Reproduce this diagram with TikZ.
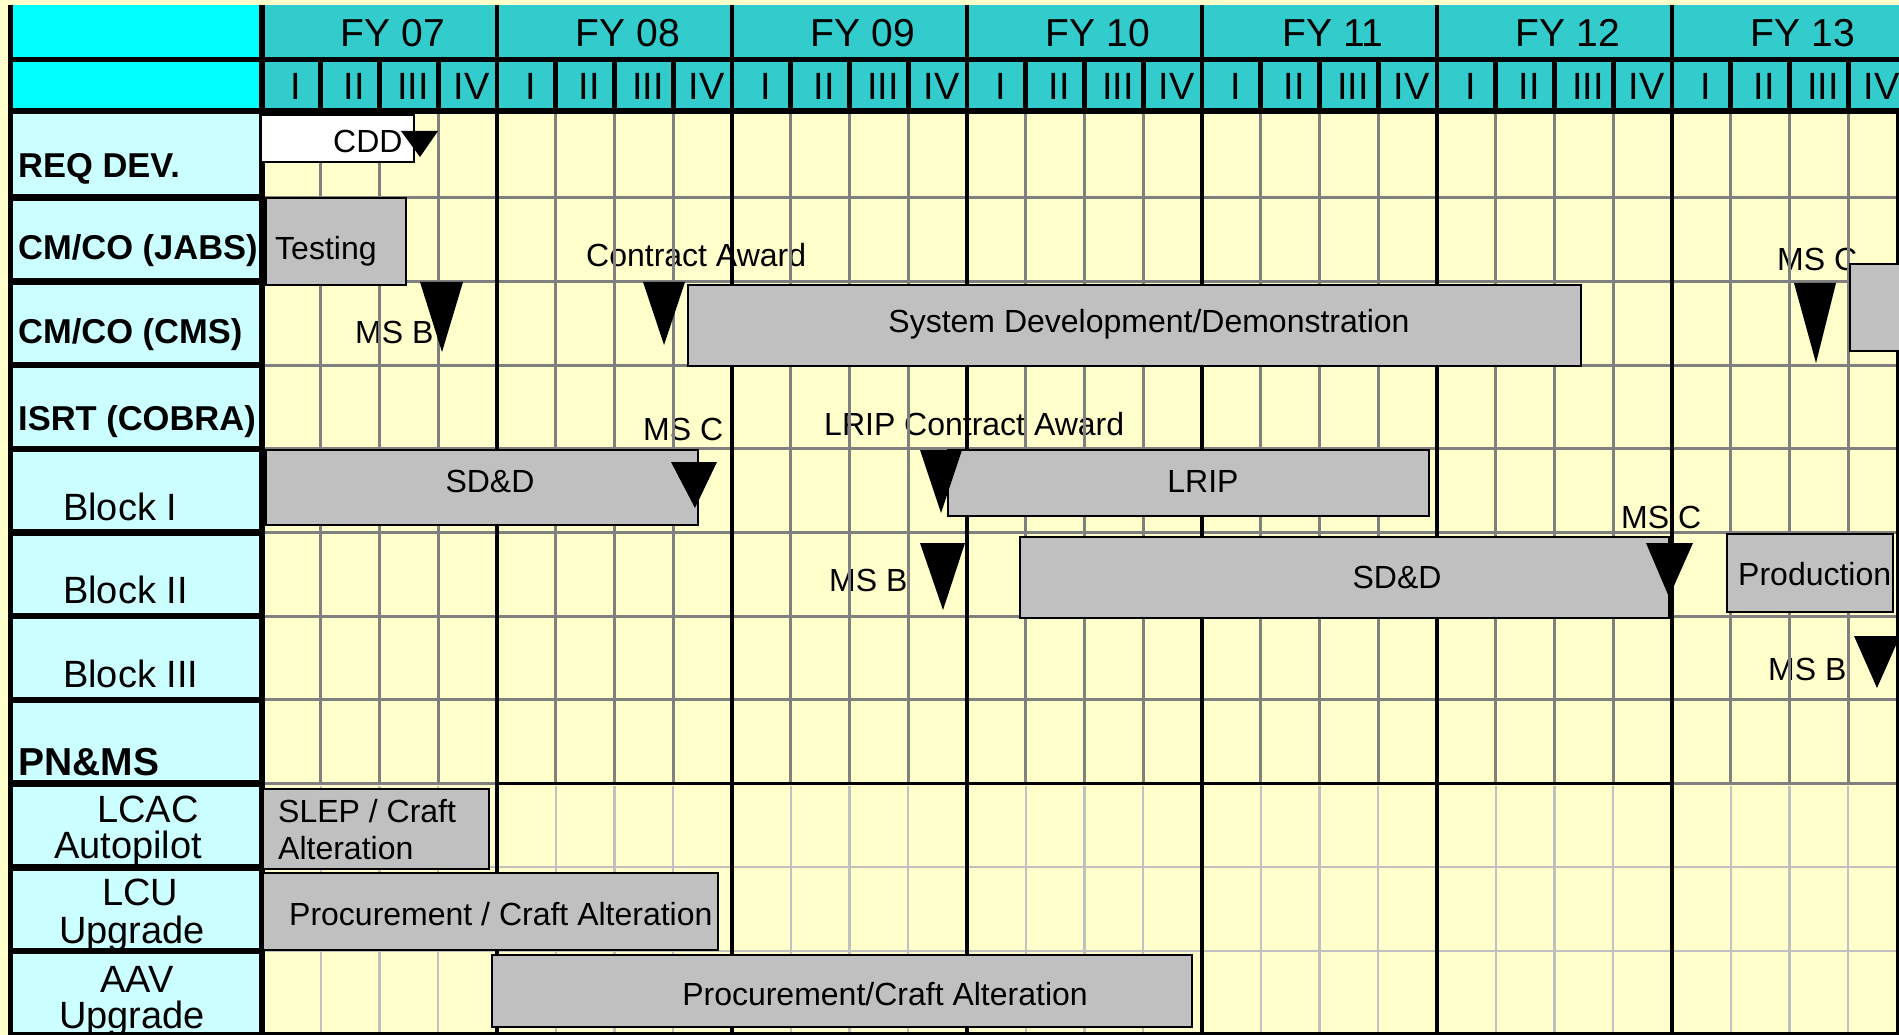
\documentclass[tikz,border=0pt]{standalone}
\usepackage{fontspec}
\setmainfont{Liberation Sans}
\definecolor{bgy}{HTML}{FFFFCC}
\definecolor{hcyan}{HTML}{00FFFF}
\definecolor{lcyan}{HTML}{CCFFFF}
\definecolor{hteal}{HTML}{33CCCC}
\definecolor{barg}{HTML}{C0C0C0}
\definecolor{gridg}{HTML}{808080}
\definecolor{gridl}{HTML}{C0C0C0}
\newcommand{\ganttbar}[6]{%
  \node[barbox, fill=#6, minimum width={(#4-#2)*1pt}, minimum height={(#5-#3)*1pt}, anchor=north west] (#1) at (#2,#3) {};}
\begin{document}
\begin{tikzpicture}[x=1pt,y=-1pt,
  barbox/.style={draw=black, line width=2.5pt, outer sep=0pt, inner sep=0pt},
  bt/.style={font=\fontsize{32}{38}\selectfont, inner sep=0pt},
  ms/.style={font=\fontsize{32}{38}\selectfont, inner sep=0pt, anchor=base west},
  fyl/.style={font=\fontsize{39}{46}\selectfont, inner sep=0pt, anchor=base},
  qtl/.style={font=\fontsize{38}{45}\selectfont, inner sep=0pt, anchor=base},
  boldlbl/.style={font=\fontsize{34.5}{40}\selectfont\bfseries, inner sep=0pt, anchor=base west},
  reglbl/.style={font=\fontsize{38}{45}\selectfont, inner sep=0pt, anchor=base west},
  gridline/.style={draw=gridg, line width=3pt},
  lightline/.style={draw=gridl, line width=2.2pt},
  yearline/.style={draw=black, line width=4.5pt},
  milestone/.style={fill=black}
]
\useasboundingbox (0,0) rectangle (1899,1035);
\begin{scope}
\clip (0,0) rectangle (1899,1035);
% backgrounds
\fill[bgy] (0,0) rectangle (1899,1035);
\fill[hcyan] (10,5) rectangle (262,108);
\fill[hteal] (262,5) rectangle (1899,108);
\fill[lcyan] (10,114) rectangle (262,1033);

% milestone labels (lie under the grid lines)
\node[ms] (lCA) at (586,267) {Contract Award};
\node[ms] (lMSB1) at (355,343) {MS B};
\node[ms] (lMSC1) at (1777,270) {MS C};
\node[ms] (lMSC2) at (643,440) {MS C};
\node[ms] (lLRIPCA) at (824,435) {LRIP Contract Award};
\node[ms] (lMSB2) at (829,591) {MS B};
\node[ms] (lMSC3) at (1621,528) {MS C};
\node[ms] (lMSB3) at (1768,680) {MS B};

% grid, upper section
\foreach \k in {1,2,3,5,6,7,9,10,11,13,14,15,17,18,19,21,22,23,25,26,27}
  \draw[gridline] ({262+58.75*\k},114) -- ({262+58.75*\k},784);
\foreach \r in {1,...,8}
  \draw[gridline] (262,{114+83.7*\r}) -- (1899,{114+83.7*\r});
% grid, lower section
\foreach \k in {1,2,3,5,6,7,9,10,11,13,14,15,17,18,19,21,22,23,25,26,27}
  \draw[lightline] ({262+58.75*\k},786) -- ({262+58.75*\k},1033);
\foreach \r in {9,10}
  \draw[lightline] (262,{114+83.7*\r}) -- (1899,{114+83.7*\r});
\draw[draw=black, line width=3pt] (497,783.6) -- (1672,783.6);
% year lines
\foreach \y in {1,...,6}
  \draw[yearline] ({262+235*\y},5) -- ({262+235*\y},1033);
% header quarter separators
\foreach \k in {1,2,3,5,6,7,9,10,11,13,14,15,17,18,19,21,22,23,25,26,27}
  \draw[draw=black, line width=5pt] ({262+58.75*\k},62) -- ({262+58.75*\k},108);
% header horizontals
\draw[draw=black, line width=5pt] (10,59.5) -- (1899,59.5);
\draw[draw=black, line width=6.5pt] (10,111) -- (1899,111);
% label column separators
\foreach \r in {1,...,10}
  \draw[draw=black, line width=6.5pt] (10,{114+83.7*\r}) -- (262,{114+83.7*\r});
% borders
\draw[draw=black, line width=4.5pt] (10.5,5) -- (10.5,1035);
\draw[draw=black, line width=5.5pt] (262,5) -- (262,1035);
\draw[draw=black, line width=3pt] (1897,114) -- (1897,1033);
\draw[draw=black, line width=3pt] (10,1033) -- (1899,1033);

% bars
\ganttbar{bCDD}{261}{115}{414}{162}{white}
\ganttbar{bTest}{266}{198}{406}{285}{barg}
\ganttbar{bSDD}{688}{285}{1581}{366}{barg}
\ganttbar{bProd1}{1850}{264}{1915}{351}{barg}
\ganttbar{bSDDI}{266}{450}{698}{525}{barg}
\ganttbar{bLRIP}{948}{450}{1429}{516}{barg}
\ganttbar{bSDDII}{1020}{537}{1669}{618}{barg}
\ganttbar{bProd2}{1727}{534}{1893}{612}{barg}
\ganttbar{bSLEP}{263}{789}{489}{869}{barg}
\ganttbar{bLCU}{263}{873}{718}{950}{barg}
\ganttbar{bAAV}{492}{955}{1192}{1027}{barg}

% bar texts
\node[bt, anchor=base west] (tCDD) at (333,153) {CDD};
\node[bt, anchor=base west] (tTest) at (275,260) {Testing};
\node[bt, anchor=base] (tSDD) at (1149,332) {System Development/Demonstration};
\node[bt, anchor=base] (tSDDI) at (490,492) {SD\&D};
\node[bt, anchor=base] (tLRIP) at (1203,492) {LRIP};
\node[bt, anchor=base] (tSDDII) at (1397,588) {SD\&D};
\node[bt, anchor=base west] (tProd) at (1738,585) {Production};
\node[bt, anchor=base west] (tSLEPa) at (278,822) {SLEP / Craft};
\node[bt, anchor=base west] (tSLEPb) at (278,859) {Alteration};
\node[bt, anchor=base west] (tLCU) at (289,925) {Procurement / Craft Alteration};
\node[bt, anchor=base] (tAAV) at (885,1005) {Procurement/Craft Alteration};

% milestone triangles
\fill[milestone] (401,131) -- (438,131) -- (420,157) -- cycle;
\fill[milestone] (420,282) -- (463,282) -- (442,352) -- cycle;
\fill[milestone] (643,282) -- (685,282) -- (664,345) -- cycle;
\fill[milestone] (1794,283) -- (1836,283) -- (1816,363) -- cycle;
\fill[milestone] (671,462) -- (717,462) -- (695,508) -- cycle;
\fill[milestone] (920,450) -- (962,450) -- (941,513) -- cycle;
\fill[milestone] (920,543) -- (965,543) -- (943,610) -- cycle;
\fill[milestone] (1646,543) -- (1693,543) -- (1669,597) -- cycle;
\fill[milestone] (1854,636) -- (1900,636) -- (1877,688) -- cycle;

% header texts
\foreach \y/\t in {0/07,1/08,2/09,3/10,4/11,5/12,6/13}
  \node[fyl] (fy\y) at ({262+235*\y+131},47) {FY \t};
\foreach \y in {0,...,6}
  \foreach \q/\ql in {1/I,2/II,3/III,4/IV}
    \node[qtl] (q\y\q) at ({262+235*\y+58.75*(\q-0.5)+4},100) {\ql};

% row labels
\node[boldlbl] (rReq) at (18,178) {REQ DEV.};
\node[boldlbl] (rJabs) at (18,260) {CM/CO (JABS)};
\node[boldlbl] (rCms) at (18,343) {CM/CO (CMS)};
\node[boldlbl] (rIsrt) at (18,430) {ISRT (COBRA)};
\node[reglbl] (rB1) at (63,520) {Block I};
\node[reglbl] (rB2) at (63,603) {Block II};
\node[reglbl] (rB3) at (63,687) {Block III};
\node[boldlbl, font=\fontsize{39}{46}\selectfont\bfseries] (rPn) at (18,775) {PN\&MS};
\node[reglbl] (rLcacA) at (97,822) {LCAC};
\node[reglbl] (rLcacB) at (54,858) {Autopilot};
\node[reglbl] (rLcuA) at (102,905) {LCU};
\node[reglbl] (rLcuB) at (59,943) {Upgrade};
\node[reglbl] (rAavA) at (100,992) {AAV};
\node[reglbl] (rAavB) at (59,1028) {Upgrade};
\end{scope}
\end{tikzpicture}
\end{document}
